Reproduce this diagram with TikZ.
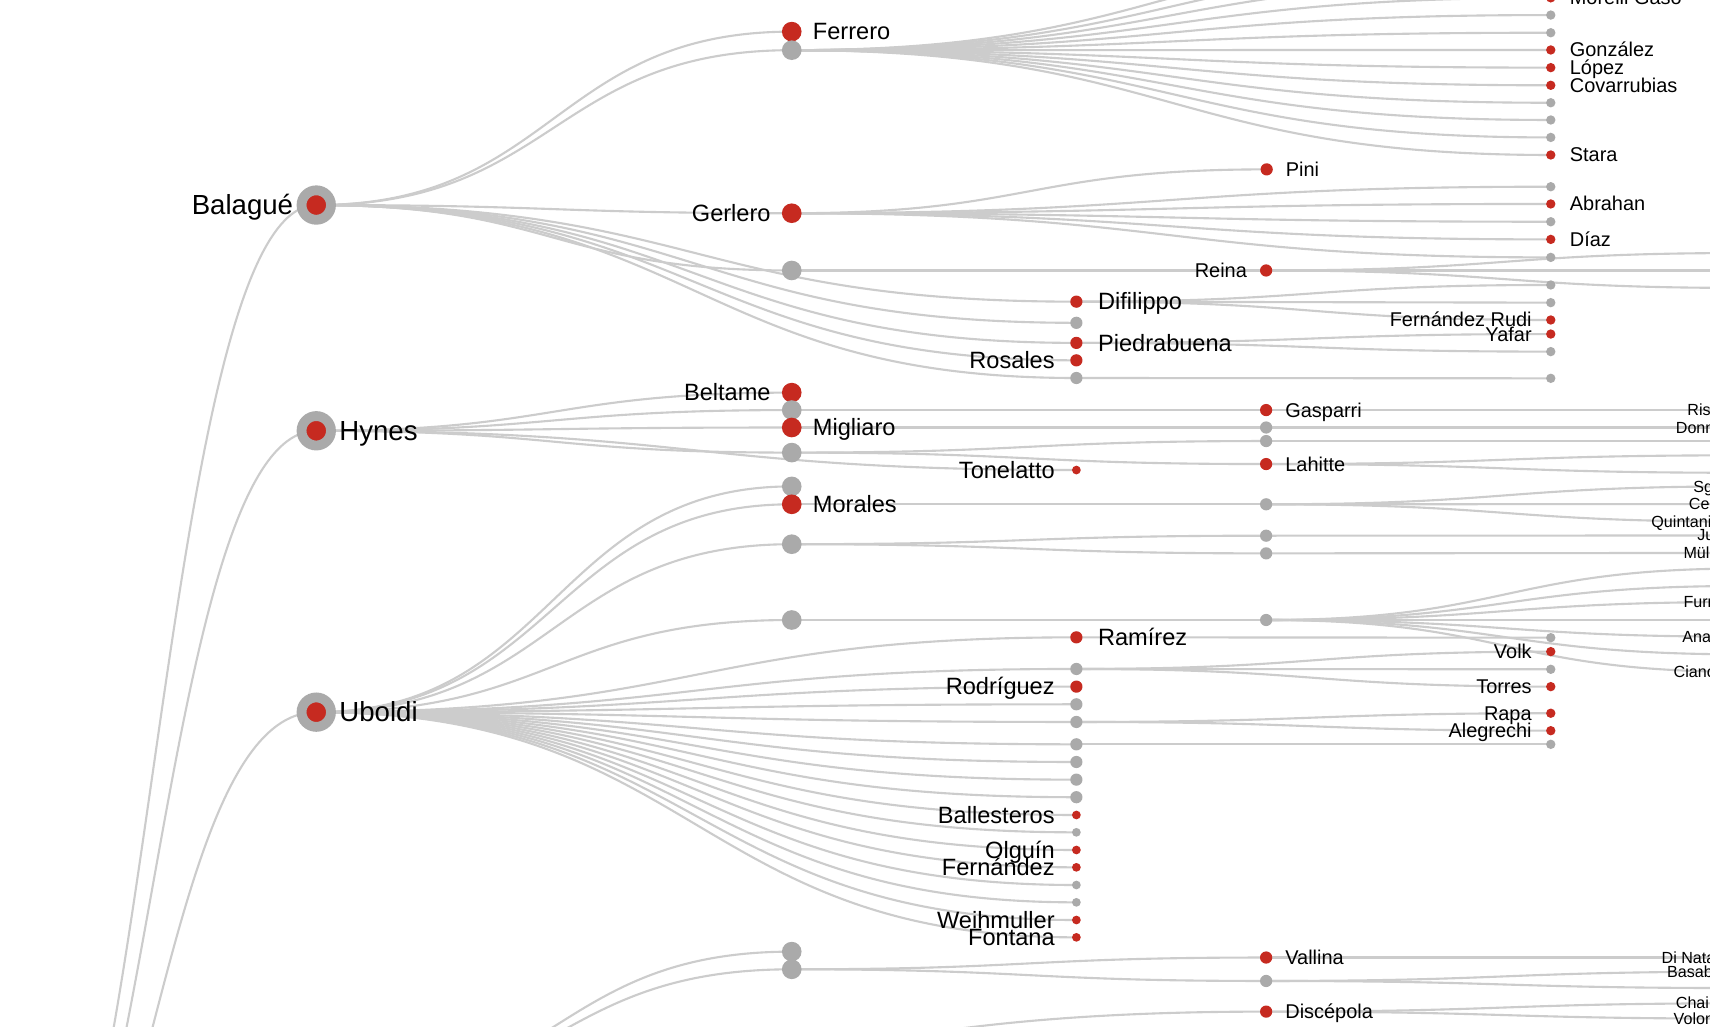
\documentclass[tikz,border=0pt]{standalone}
\usepackage{fontspec}
\setmainfont{Liberation Sans}
\usetikzlibrary{calc,positioning}
\definecolor{linkgray}{HTML}{CCCCCC}
\definecolor{dotgray}{HTML}{AAAAAA}
\definecolor{dotred}{HTML}{C62A20}
\pgfdeclarelayer{bg}
\pgfsetlayers{bg,main}
% horizontal diagonal between two nodes
\newcommand{\lnk}[2]{\draw[link] let \p1=(#1), \p2=(#2) in (\p1) .. controls ({0.5*\x1+0.5*\x2},\y1) and ({0.5*\x1+0.5*\x2},\y2) .. (\p2);}

\begin{document}
\begin{tikzpicture}[x=0.01cm, y=-0.01cm,
  link/.style={draw=linkgray, line width=0.55pt},
  dot/.style={circle, inner sep=0pt, outer sep=0pt},
  top/.style={dot, draw=dotgray, line width=0.09cm, fill=dotred, minimum size=0.27cm},
  d1/.style={dot, minimum size=0.18cm},
  d2/.style={dot, minimum size=0.112cm},
  d2s/.style={dot, minimum size=0.08cm},
  d3/.style={dot, minimum size=0.112cm},
  d4/.style={dot, minimum size=0.086cm},
  rdot/.style={fill=dotred},
  gdot/.style={fill=dotgray},
  f0/.style={font=\fontsize{7.2}{8}\selectfont, text height=5.04pt, text depth=0pt, inner sep=0pt},
  f1/.style={font=\fontsize{6.15}{7}\selectfont, text height=4.3pt, text depth=0pt, inner sep=0pt},
  f3/.style={font=\fontsize{5.2}{6}\selectfont, text height=3.64pt, text depth=0pt, inner sep=0pt},
  f5/.style={font=\fontsize{4.2}{5}\selectfont, text height=2.94pt, text depth=0pt, inner sep=0pt, anchor=west},
  lab0/.style={label={[f0, label distance=0.07cm]#1}},
  lab1/.style={label={[f1, label distance=0.097cm]#1}},
  lab2/.style={label={[f1, label distance=0.136cm]#1}},
  lab2s/.style={label={[f1, label distance=0.152cm]#1}},
  lab3/.style={label={[f3, label distance=0.113cm]#1}},
  lab4/.style={label={[f3, label distance=0.125cm]#1}}]
  \useasboundingbox (0,0) rectangle (1568,941);
  \clip (0,0) rectangle (1568,941);

  % level 0
  \coordinate (root) at (-10,1230);
  \coordinate (quarto) at (290,1010);
  \node[top, lab0=left:Balagué] (balague) at (290,188) {};
  \node[top, lab0=right:Hynes] (hynes) at (290,395) {};
  \node[top, lab0=right:Uboldi] (uboldi) at (290,653) {};

  % level 1
  \node[d1, rdot, lab1=right:Ferrero] (ferrero) at (726,29) {};
  \node[d1, gdot] (fgrey) at (726,46) {};
  \node[d1, rdot, lab1=left:Gerlero] (gerlero) at (726,195.5) {};
  \node[d1, gdot] (bgrey) at (726,248) {};
  \node[d1, rdot, lab1=left:Beltame] (beltame) at (726,360) {};
  \node[d1, gdot] (hgreya) at (726,376) {};
  \node[d1, rdot, lab1=right:Migliaro] (migliaro) at (726,392) {};
  \node[d1, gdot] (hgreyb) at (726,415) {};
  \node[d1, gdot] (ugreya) at (726,446) {};
  \node[d1, rdot, lab1=right:Morales] (morales) at (726,462.4) {};
  \node[d1, gdot] (ugreyb) at (726,499) {};
  \node[d1, gdot] (ugreyc) at (726,568.5) {};
  \node[d1, gdot] (qgreya) at (726,872.6) {};
  \node[d1, gdot] (qgreyb) at (726,888.8) {};

  % level 2
  \node[d2, rdot, lab2=right:Difilippo] (difilippo) at (987,276.6) {};
  \node[d2, gdot] (bgreyb) at (987,296) {};
  \node[d2, rdot, lab2=right:Piedrabuena] (piedrabuena) at (987,314.4) {};
  \node[d2, rdot, lab2=left:Rosales] (rosales) at (987,330.4) {};
  \node[d2, gdot] (bgreyc) at (987,346.6) {};
  \node[d2s, rdot, lab2s=left:Tonelatto] (tonelatto) at (987,431) {};
  \node[d2, rdot, lab2=right:Ramírez] (ramirez) at (987,584.4) {};
  \node[d2, gdot] (ugreyd) at (987,613.4) {};
  \node[d2, rdot, lab2=left:Rodríguez] (rodriguez) at (987,629.6) {};
  \foreach \y [count=\i] in {645.8,662,682.5,698.7,714.9,731}
    \node[d2, gdot] (ug\i) at (987,\y) {};
  \node[d2s, rdot, lab2s=left:Ballesteros] (ballesteros) at (987,747.3) {};
  \node[d2s, gdot] (ugs1) at (987,763.2) {};
  \node[d2s, rdot, lab2s=left:Olguín] (olguin) at (987,779.4) {};
  \node[d2s, rdot, lab2s=left:Fernández] (fernandez) at (987,795.3) {};
  \node[d2s, gdot] (ugs2) at (987,811.5) {};
  \node[d2s, gdot] (ugs3) at (987,827.4) {};
  \node[d2s, rdot, lab2s=left:Weihmuller] (weihmuller) at (987,843.6) {};
  \node[d2s, rdot, lab2s=left:Fontana] (fontana) at (987,859.5) {};

  % level 3
  \node[d3, rdot, lab3=right:Pini] (pini) at (1161.5,155.3) {};
  \node[d3, rdot, lab3=left:Reina] (reina) at (1161,248) {};
  \node[d3, rdot, lab3=right:Gasparri] (gasparri) at (1161,376) {};
  \node[d3, gdot] (hgreyc) at (1161,392) {};
  \node[d3, gdot] (hgreyd) at (1161,404.4) {};
  \node[d3, rdot, lab3=right:Lahitte] (lahitte) at (1161,425.5) {};
  \node[d3, gdot] (mgreya) at (1161,462.4) {};
  \node[d3, gdot] (mgreyb) at (1161,491.2) {};
  \node[d3, gdot] (mgreyc) at (1161,507.4) {};
  \node[d3, gdot] (mgreyd) at (1161,568.5) {};
  \node[d3, rdot, lab3=right:Vallina] (vallina) at (1161,878) {};
  \node[d3, gdot] (qgreyc) at (1161,899.5) {};
  \node[d3, rdot, lab3=right:Discépola] (discepola) at (1161,927.6) {};

  % level 4
  \foreach \n/\y in {fa/-50,fb/-34,fc/-18}
    \coordinate (\n) at (1422,\y);
  \node[d4, rdot, lab4=right:Morelli Gaso] (morelli) at (1422,-2) {};
  \node[d4, gdot] (fg1) at (1422,13.8) {};
  \node[d4, gdot] (fg2) at (1422,30) {};
  \node[d4, rdot, lab4=right:González] (gonzalez) at (1422,45.8) {};
  \node[d4, rdot, lab4=right:López] (lopez) at (1422,62) {};
  \node[d4, rdot, lab4=right:Covarrubias] (covarrubias) at (1422,78.2) {};
  \node[d4, gdot] (fg3) at (1422,94.2) {};
  \node[d4, gdot] (fg4) at (1422,110) {};
  \node[d4, gdot] (fg5) at (1422,126) {};
  \node[d4, rdot, lab4=right:Stara] (stara) at (1422,142.1) {};
  \node[d4, gdot] (gg1) at (1422,171.2) {};
  \node[d4, rdot, lab4=right:Abrahan] (abrahan) at (1422,187) {};
  \node[d4, gdot] (gg2) at (1422,203.3) {};
  \node[d4, rdot, lab4=right:Díaz] (diaz) at (1422,219.5) {};
  \node[d4, gdot] (gg3) at (1422,236) {};
  \node[d4, gdot] (pg1) at (1422,261.3) {};
  \node[d4, gdot] (pg2) at (1422,277.5) {};
  \node[d4, rdot, lab4=left:Fernández Rudi] (fernandezrudi) at (1422,293.4) {};
  \node[d4, rdot, lab4=left:Yafar] (yafar) at (1422,306.3) {};
  \node[d4, gdot] (pg3) at (1422,322.4) {};
  \node[d4, gdot] (pg4) at (1422,346.9) {};
  \node[d4, gdot] (rg1) at (1422,584.7) {};
  \node[d4, rdot, lab4=left:Volk] (volk) at (1422,597.5) {};
  \node[d4, gdot] (rg2) at (1422,613.7) {};
  \node[d4, rdot, lab4=left:Torres] (torres) at (1422,629.6) {};
  \node[d4, rdot, lab4=left:Rapa] (rapa) at (1422,654) {};
  \node[d4, rdot, lab4=left:Alegrechi] (alegrechi) at (1422,670) {};
  \node[d4, gdot] (rg3) at (1422,682.5) {};

  % level 5, off the right edge
  \foreach \n/\y in {ra/232,rb/248,rc/264,e1/376,e2/392,e3/404.4,e4/417.5,e5/433.5,
      e6/446,e7/462.2,e8/478.3,e9/491,e10/507,e11/521.3,e12/537.3,e13/552,e14/568.5,
      e15/583.8,e16/600,e17/616,e18/878,e19/891,e20/906,e21/920,e22/934}
    \coordinate (\n) at (1600,\y);
  \node[f5] (risso) at (1546.6,376) {Ris};
  \node[f5] (donn) at (1536,392) {Donn};
  \node[f5] (sg) at (1552,446) {Sg};
  \node[f5] (ce) at (1548,462.2) {Ce};
  \node[f5] (quintani) at (1513.6,478.3) {Quintani};
  \node[f5] (ju) at (1555.7,490) {Ju};
  \node[f5] (mull) at (1543,506.5) {Müll};
  \node[f5] (furr) at (1543,551.5) {Furr};
  \node[f5] (ana) at (1542,583.8) {Ana};
  \node[f5] (cianc) at (1534,616) {Cianc};
  \node[f5] (dinata) at (1523,878) {Di Nata};
  \node[f5] (basab) at (1528,891) {Basab};
  \node[f5] (chai) at (1536,920) {Chai};
  \node[f5] (volo) at (1534,934) {Volon};

  \begin{pgfonlayer}{bg}
    \fill[white] (0,0) rectangle (1568,941);
    \clip (0,0) rectangle (1568,941);
    \foreach \a/\b in {root/balague,root/hynes,root/uboldi,root/quarto,
        balague/ferrero,balague/fgrey,balague/gerlero,balague/bgrey,balague/difilippo,
        balague/bgreyb,balague/piedrabuena,balague/rosales,balague/bgreyc,
        fgrey/fa,fgrey/fb,fgrey/fc,fgrey/morelli,fgrey/fg1,fgrey/fg2,fgrey/gonzalez,
        fgrey/lopez,fgrey/covarrubias,fgrey/fg3,fgrey/fg4,fgrey/fg5,fgrey/stara,
        gerlero/pini,gerlero/gg1,gerlero/abrahan,gerlero/gg2,gerlero/diaz,gerlero/gg3,
        bgrey/reina,reina/ra,reina/rb,reina/rc,
        difilippo/pg1,difilippo/pg2,difilippo/fernandezrudi,
        piedrabuena/yafar,piedrabuena/pg3,bgreyc/pg4,
        hynes/beltame,hynes/hgreya,hynes/migliaro,hynes/hgreyb,hynes/tonelatto,
        hgreya/gasparri,migliaro/hgreyc,hgreyb/hgreyd,hgreyb/lahitte,
        gasparri/e1,hgreyc/e2,hgreyd/e3,lahitte/e4,lahitte/e5,
        uboldi/ugreya,uboldi/morales,uboldi/ugreyb,uboldi/ugreyc,uboldi/ramirez,
        uboldi/ugreyd,uboldi/rodriguez,uboldi/ug1,uboldi/ug2,uboldi/ug3,uboldi/ug4,
        uboldi/ug5,uboldi/ug6,uboldi/ballesteros,uboldi/ugs1,uboldi/olguin,
        uboldi/fernandez,uboldi/ugs2,uboldi/ugs3,uboldi/weihmuller,uboldi/fontana,
        morales/mgreya,ugreyb/mgreyb,ugreyb/mgreyc,ugreyc/mgreyd,
        mgreya/e6,mgreya/e7,mgreya/e8,mgreyb/e9,mgreyc/e10,
        mgreyd/e11,mgreyd/e12,mgreyd/e13,mgreyd/e14,mgreyd/e15,mgreyd/e16,mgreyd/e17,
        ramirez/rg1,ugreyd/volk,ugreyd/rg2,ugreyd/torres,ug2/rapa,ug2/alegrechi,ug3/rg3,
        quarto/qgreya,quarto/qgreyb,quarto/discepola,qgreyb/vallina,qgreyb/qgreyc,
        vallina/e18,qgreyc/e19,qgreyc/e20,discepola/e21,discepola/e22}
      {\lnk{\a}{\b}}
  \end{pgfonlayer}
\end{tikzpicture}
\end{document}
